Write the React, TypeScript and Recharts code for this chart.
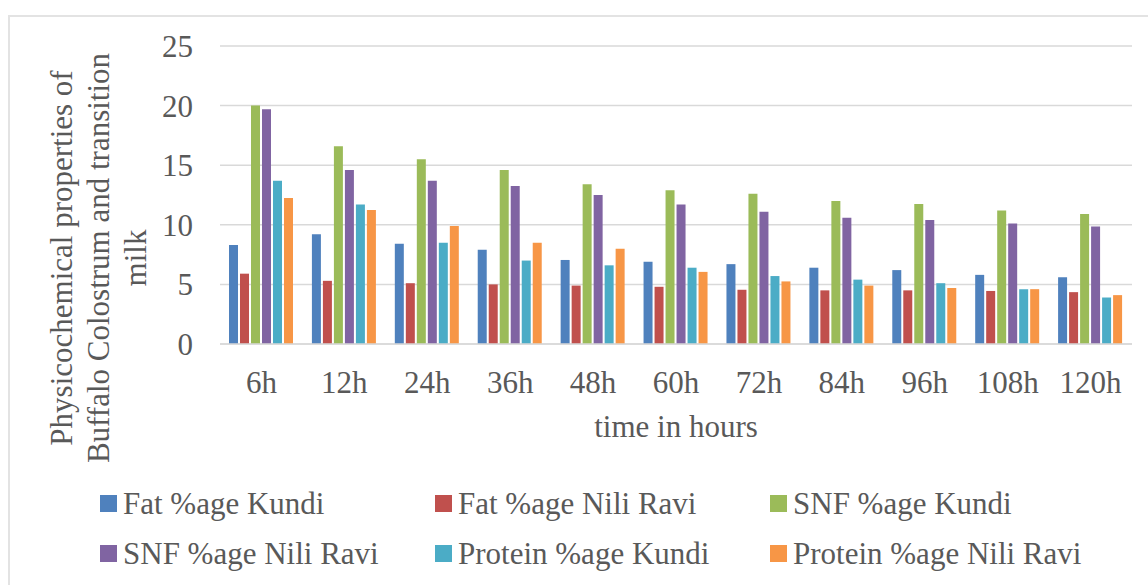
import { BarChart, Bar, XAxis, YAxis, CartesianGrid, Legend } from "recharts"

const hours = ["6h", "12h", "24h", "36h", "48h", "60h", "72h", "84h", "96h", "108h", "120h"]
const fatKundi = [8.3, 9.2, 8.4, 7.9, 7.05, 6.9, 6.7, 6.4, 6.2, 5.8, 5.6]
const fatNiliRavi = [5.9, 5.3, 5.1, 5.0, 4.9, 4.8, 4.55, 4.5, 4.5, 4.45, 4.35]
const snfKundi = [20.0, 16.6, 15.5, 14.6, 13.4, 12.9, 12.6, 12.0, 11.75, 11.2, 10.9]
const snfNiliRavi = [19.7, 14.6, 13.7, 13.25, 12.5, 11.7, 11.1, 10.6, 10.4, 10.1, 9.85]
const proteinKundi = [13.7, 11.7, 8.5, 7.0, 6.6, 6.4, 5.7, 5.4, 5.1, 4.6, 3.9]
const proteinNiliRavi = [12.25, 11.25, 9.9, 8.5, 8.0, 6.05, 5.25, 4.9, 4.7, 4.6, 4.1]
const yTicks = [0, 5, 10, 15, 20, 25]

const series = [
  { key: "fatKundi", name: "Fat %age Kundi", color: "#4F81BD", values: fatKundi },
  { key: "fatNiliRavi", name: "Fat %age Nili Ravi", color: "#C0504D", values: fatNiliRavi },
  { key: "snfKundi", name: "SNF %age Kundi", color: "#9BBB59", values: snfKundi },
  { key: "snfNiliRavi", name: "SNF %age Nili Ravi", color: "#8064A2", values: snfNiliRavi },
  { key: "proteinKundi", name: "Protein %age Kundi", color: "#4BACC6", values: proteinKundi },
  { key: "proteinNiliRavi", name: "Protein %age Nili Ravi", color: "#F79646", values: proteinNiliRavi },
]

const data = hours.map((h, i) => {
  const row: any = { hour: h }
  series.forEach(s => { row[s.key] = s.values[i] })
  return row
})

const font = "'Liberation Serif', 'Times New Roman', serif"
const textColor = "#595959"

function YTitle() {
  const lines = ["Physicochemical properties of", "Buffalo Colostrum and transition", "milk"]
  return (
    <g>
      {lines.map((t, i) => (
        <text
          key={i}
          transform="rotate(-90)"
          x={-258}
          y={72 + i * 37}
          textAnchor="middle"
          fontFamily={font}
          fontSize={31}
          fill={textColor}
        >
          {t}
        </text>
      ))}
    </g>
  )
}

function LegendBox() {
  const cols = [100, 435, 770]
  const rows = [488, 538]
  return (
    <div style={{ position: "relative", width: 1148, height: 585 }}>
      {series.map((s, i) => (
        <div
          key={s.key}
          style={{
            position: "absolute",
            left: cols[i % 3],
            top: rows[Math.floor(i / 3)],
            height: 31,
            display: "flex",
            alignItems: "center",
            whiteSpace: "nowrap",
          }}
        >
          <span style={{ display: "inline-block", flex: "0 0 17px", width: 17, height: 17, background: s.color, marginRight: 6 }} />
          <span style={{ fontFamily: font, fontSize: 31, lineHeight: "31px", color: textColor }}>{s.name}</span>
        </div>
      ))}
    </div>
  )
}

export default function App() {
  return (
    <div style={{ position: "absolute", left: 0, top: 0, width: 1148, height: 585, background: "#fff", overflow: "hidden" }}>
      <div style={{ position: "absolute", left: 8, top: 15, right: -10, bottom: -10, borderLeft: "2px solid #e3e3e3", borderTop: "2px solid #e3e3e3" }} />
      <div style={{ position: "absolute", left: 0, top: 0 }}>
        <BarChart
          width={1148}
          height={585}
          data={data}
          margin={{ top: 46, right: 16, bottom: 0, left: 0 }}
          barCategoryGap={9}
          barGap={2}
        >
          <CartesianGrid vertical={false} stroke="#d9d9d9" strokeWidth={1.5} />
          <XAxis
            dataKey="hour"
            height={241}
            tickLine={false}
            tickSize={0}
            tickMargin={27}
            axisLine={{ stroke: "#d9d9d9", strokeWidth: 1.5 }}
            tick={{ fontFamily: font, fontSize: 31, fill: textColor }}
            label={{ value: "time in hours", position: "insideTop", offset: 71, fontFamily: font, fontSize: 31, fill: textColor }}
          />
          <YAxis
            width={220}
            domain={[0, 25]}
            ticks={yTicks}
            axisLine={false}
            tickLine={false}
            tickSize={0}
            tickMargin={27}
            tick={{ fontFamily: font, fontSize: 31, fill: textColor }}
            label={{ content: () => <YTitle /> }}
          />
          <Legend
            layout="horizontal"
            verticalAlign="middle"
            align="center"
            wrapperStyle={{ position: "absolute", left: 0, top: 0, width: 1148, height: 585, pointerEvents: "none" }}
            content={() => <LegendBox />}
          />
          {series.map(s => (
            <Bar key={s.key} dataKey={s.key} name={s.name} fill={s.color} isAnimationActive={false} />
          ))}
        </BarChart>
      </div>
    </div>
  )
}
